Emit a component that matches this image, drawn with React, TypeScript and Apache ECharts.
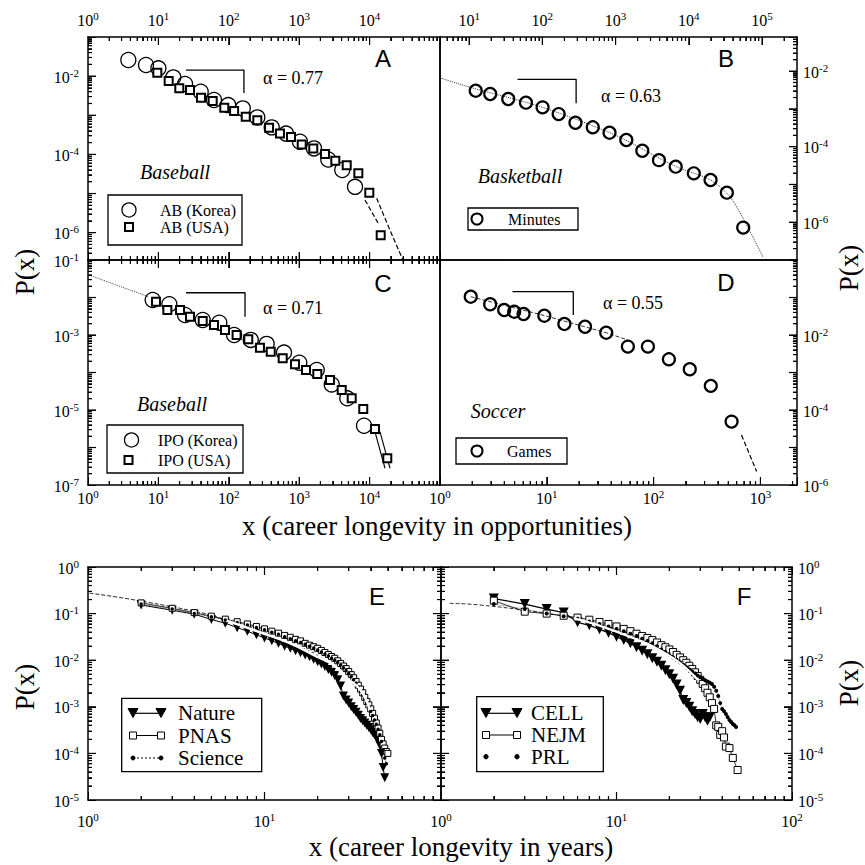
import React, { useEffect, useRef } from "react";
import * as echarts from "echarts";

type P = [number, number];

const SERIF = "'Liberation Serif', 'Times New Roman', serif";
const SANS = "'Liberation Sans', Arial, Helvetica, sans-serif";

// ---------------- Panel A : Baseball, at-bats ----------------
const abKorea: P[] = [
  [3.74, 0.0258], [6.67, 0.0192], [10, 0.0158], [16.3, 0.0093], [23.9, 0.00628],
  [39.9, 0.004], [61.6, 0.00245], [98, 0.00182], [158, 0.0015], [254, 0.00088],
  [407, 0.00049], [650, 0.00034], [1026, 0.00021], [1622, 0.000142], [2590, 7.4e-5],
  [4090, 4.0e-5], [6210, 1.48e-5],
];
const abUSA: P[] = [
  [9.65, 0.0122], [14, 0.0075], [19.8, 0.00488], [28.1, 0.00441], [40.3, 0.0028],
  [59, 0.0023], [86.3, 0.00156], [119, 0.00128], [174, 0.00092], [254, 0.00075],
  [373, 0.00048], [533, 0.00034], [765, 0.00028], [1086, 0.00018], [1585, 0.000142],
  [2323, 0.000102], [3257, 6.9e-5], [4730, 5.3e-5], [6920, 3.3e-5], [9900, 1.04e-5],
  [14380, 8.6e-7],
];
const fitAKorea: P[] = [[8600, 6.8e-6], [13200, 1.75e-6]];
const fitAUSA: P[] = [[12600, 7.6e-6], [19500, 1.16e-6], [29800, 2.0e-7]];
const slopeA: P[] = [[24.7, 0.0143], [164, 0.0143], [164, 0.0037]];

// ---------------- Panel B : Basketball, minutes ----------------
const minutes: P[] = [
  [12.3, 0.00303], [19.4, 0.00248], [34.2, 0.00183], [59.7, 0.00146], [100.7, 0.0011],
  [167, 0.00073], [283, 0.00043], [488, 0.000326], [826, 0.000234], [1400, 0.00015],
  [2317, 7.8e-5], [3910, 4.4e-5], [6620, 2.95e-5], [11690, 1.97e-5], [19800, 1.31e-5],
  [33050, 6.05e-6], [55300, 7.2e-7],
];
const fitB: P[] = [
  [4.1, 0.0065], [11, 0.0036], [100, 0.0011], [1000, 0.0002], [6600, 3.0e-5],
  [20000, 1.3e-5], [36400, 4.7e-6], [58300, 1.03e-6], [103000, 1.2e-7],
];
const slopeB: P[] = [[45.8, 0.00607], [289, 0.00607], [289, 0.00141]];

// ---------------- Panel C : Baseball, innings pitched outs ----------------
const ipoKorea: P[] = [
  [8.3, 0.00858], [14.3, 0.00659], [23.9, 0.00341], [42.6, 0.00251], [73.3, 0.00213],
  [119, 0.001], [205, 0.00074], [345, 0.00058], [608, 0.00034], [1003, 0.000182],
  [1774, 0.000117], [2897, 4.8e-5], [4820, 2.05e-5], [8330, 3.8e-6],
];
const ipoUSA: P[] = [
  [9.25, 0.00773], [13.4, 0.00464], [20.3, 0.00464], [28.1, 0.00308], [42.6, 0.00236],
  [61.6, 0.00185], [88.3, 0.00136], [129, 0.001], [189, 0.00077], [277, 0.00046],
  [394, 0.00036], [583, 0.00024], [872, 0.000166], [1249, 0.000117], [1808, 9.1e-5],
  [2741, 6.3e-5], [4016, 3.4e-5], [5570, 2.05e-5], [8130, 1.06e-5], [11930, 3.1e-6],
  [17830, 5.2e-7],
];
const fitC0: P[] = [[1.1, 0.038], [7.2, 0.0105]];
const fitC1: P[] = [[11930, 2.6e-6], [16550, 2.8e-7]];
const fitC2: P[] = [[14060, 2.6e-6], [19500, 2.8e-7]];
const slopeC: P[] = [[24.7, 0.0134], [170, 0.0134], [170, 0.00308]];

// ---------------- Panel D : Soccer, games ----------------
const games: P[] = [
  [1.94, 0.105], [2.95, 0.066], [3.99, 0.0464], [4.95, 0.0418], [6.06, 0.0363],
  [9.48, 0.0327], [14.6, 0.0197], [22.8, 0.0166], [36, 0.0115], [57.4, 0.0049],
  [88.4, 0.0049], [139, 0.00225], [218, 0.00122], [343, 0.00044], [537, 4.9e-5],
];
const fitD: P[] = [[1.94, 0.105], [9.5, 0.033], [36, 0.0115], [57, 0.0074]];
const fitDtail: P[] = [[665, 2.15e-5], [921, 2.3e-6]];
const slopeD: P[] = [[4.77, 0.143], [17.7, 0.143], [17.7, 0.0341]];

// ---------------- Panel E : journals (years) ----------------
const nature: P[] = [
  [2, 0.153], [3, 0.118], [4, 0.097], [5, 0.075], [6, 0.062], [7, 0.05], [8, 0.042],
  [9, 0.035], [10, 0.03], [11, 0.026], [12, 0.023], [13, 0.02], [14, 0.018], [15, 0.016],
  [16, 0.0145], [17, 0.013], [18, 0.0118], [19, 0.0105], [20, 0.0093], [21, 0.0083],
  [22, 0.0073], [23, 0.0063], [24, 0.0055], [25, 0.0047], [26, 0.0038], [27, 0.0028],
  [28, 0.0017], [29, 0.0014], [30, 0.0012], [31, 0.001], [32, 0.00088], [33, 0.00076],
  [34, 0.00066], [35, 0.00056], [36, 0.0005], [37, 0.00045], [38, 0.0004], [39, 0.00036],
  [40, 0.00032], [41, 0.00028], [42, 0.00025], [43, 0.00022], [44, 0.00019], [45, 0.00015],
  [46, 0.0001], [47, 0.00005], [48, 0.00003],
];
const pnas: P[] = [
  [2, 0.17], [3, 0.13], [4, 0.105], [5, 0.088], [6, 0.076], [7, 0.067], [8, 0.06],
  [9, 0.053], [10, 0.047], [11, 0.042], [12, 0.038], [13, 0.034], [14, 0.031], [15, 0.028],
  [16, 0.026], [17, 0.023], [18, 0.021], [19, 0.0195], [20, 0.018], [21, 0.0162],
  [22, 0.0146], [23, 0.0132], [24, 0.012], [25, 0.011], [26, 0.0097], [27, 0.0085],
  [28, 0.0075], [29, 0.0066], [30, 0.0057], [31, 0.0049], [32, 0.0042], [33, 0.0035],
  [34, 0.0029], [35, 0.0024], [36, 0.002], [37, 0.0016], [38, 0.0013], [39, 0.0011],
  [40, 0.0009], [41, 0.00072], [42, 0.00057], [43, 0.00045], [44, 0.00035], [45, 0.00027],
  [46, 0.0002], [47, 0.00016], [48, 0.00013], [49, 0.00011], [50, 0.0001],
];
const science: P[] = [
  [2, 0.16], [3, 0.125], [4, 0.1], [5, 0.085], [6, 0.073], [7, 0.064], [8, 0.057],
  [9, 0.05], [10, 0.045], [11, 0.04], [12, 0.036], [13, 0.032], [14, 0.029], [15, 0.026],
  [16, 0.024], [17, 0.022], [18, 0.02], [19, 0.0182], [20, 0.0166], [21, 0.015],
  [22, 0.0136], [23, 0.0123], [24, 0.011], [25, 0.01], [26, 0.009], [27, 0.0079],
  [28, 0.0069], [29, 0.006], [30, 0.0052], [31, 0.0045], [32, 0.0038], [33, 0.0032],
  [34, 0.0027], [35, 0.0022], [36, 0.0018], [37, 0.0015], [38, 0.0012], [39, 0.001],
  [40, 0.0008], [41, 0.00065], [42, 0.00052], [43, 0.00042], [44, 0.00033], [45, 0.00025],
  [46, 0.00018], [47, 0.00012], [48, 0.00008], [49, 0.00006],
];
const fitE: P[] = [[1.02, 0.275], [1.49, 0.224], [2, 0.185], [3, 0.14], [4, 0.112], [5, 0.092], [6.1, 0.0705]];
const whiteE: P[] = [
  [6.1, 0.0705], [9.8, 0.0378], [14, 0.023], [19.8, 0.0119], [24.6, 0.0079],
  [29.3, 0.0041], [35, 0.0023], [39.5, 0.00085],
];

// ---------------- Panel F : journals (years) ----------------
const cell: P[] = [
  [2, 0.21], [3, 0.16], [4, 0.125], [5, 0.105], [6, 0.065], [7, 0.056], [8, 0.046],
  [9, 0.039], [10, 0.032], [11, 0.027], [12, 0.023], [13, 0.019], [14, 0.016], [15, 0.0135],
  [16, 0.011], [17, 0.0093], [18, 0.0076], [19, 0.0061], [20, 0.005], [21, 0.004],
  [22, 0.003], [23, 0.0022], [24, 0.0014], [25, 0.0012], [26, 0.001], [27, 0.0008],
  [28, 0.0007], [29, 0.0006], [30, 0.00055], [31, 0.0007], [32, 0.0006], [33, 0.0005],
  [34, 0.0006],
];
const nejm: P[] = [
  [2, 0.19], [3, 0.11], [4, 0.1], [5, 0.09], [6, 0.082], [7, 0.074], [8, 0.066],
  [9, 0.06], [10, 0.053], [11, 0.047], [12, 0.042], [13, 0.037], [14, 0.033], [15, 0.03],
  [16, 0.027], [17, 0.024], [18, 0.021], [19, 0.019], [20, 0.017], [21, 0.015],
  [22, 0.013], [23, 0.0115], [24, 0.01], [25, 0.0088], [26, 0.0076], [27, 0.0065],
  [28, 0.0055], [29, 0.0046], [30, 0.0038], [31, 0.0031], [32, 0.0025], [33, 0.002],
  [34, 0.0016], [35, 0.0012], [36, 0.0009], [37, 0.0004], [38, 0.00037], [39, 0.00025],
  [40, 0.0003], [41, 0.00022], [42, 0.00014], [44, 0.00013], [46, 0.00008], [49, 0.000044],
];
const prl: P[] = [
  [2, 0.16], [3, 0.125], [4, 0.1], [5, 0.088], [6, 0.078], [7, 0.068], [8, 0.06],
  [9, 0.053], [10, 0.047], [11, 0.042], [12, 0.037], [13, 0.033], [14, 0.029], [15, 0.026],
  [16, 0.023], [17, 0.02], [18, 0.017], [19, 0.015], [20, 0.013], [21, 0.0115],
  [22, 0.0102], [23, 0.009], [24, 0.008], [25, 0.0071], [26, 0.0063], [27, 0.0057],
  [28, 0.0052], [29, 0.0047], [30, 0.0043], [31, 0.004], [32, 0.0037], [33, 0.0035],
  [34, 0.0033], [35, 0.0031], [36, 0.0027], [37, 0.0022], [38, 0.0017], [39, 0.0012],
  [40, 0.0009], [41, 0.0008], [42, 0.0007], [43, 0.0006], [44, 0.00052], [45, 0.00047],
  [46, 0.00043], [47, 0.0004], [48, 0.00037],
];
const fitF: P[] = [[1.12, 0.166], [1.67, 0.153], [3.9, 0.103], [5.7, 0.08]];
const whiteF: P[] = [[5.7, 0.08], [10, 0.041], [20, 0.0125], [29, 0.0038]];

// ---------------- axis ranges and tick-label exponents ----------------
const xRangeA = [1, 1e5];
const yRangeA = [2e-7, 0.1];
const xRangeB = [4, 3e5];
const yRangeB = [1e-7, 0.08];
const xRangeC = [1, 1e5];
const yRangeC = [1e-7, 0.1];
const xRangeD = [1, 2200];
const yRangeD = [1e-6, 1];
const xRangeE = [1, 100];
const yRangeE = [1e-5, 1];
const xRangeF = [1, 100];
const yRangeF = [1e-5, 1];

// sides with tick marks: 0 bottom, 1 top, 2 left, 3 right
const PANELS = [
  { g: { left: 88, top: 37, width: 352, height: 223 }, x: xRangeA, y: yRangeA, sides: [0, 1, 2],
    lab: { bottom: [] as number[], top: [0, 1, 2, 3, 4], left: [-2, -4, -6], right: [] as number[] } },
  { g: { left: 440, top: 37, width: 357, height: 223 }, x: xRangeB, y: yRangeB, sides: [1, 3],
    lab: { bottom: [], top: [1, 2, 3, 4, 5], left: [], right: [-2, -4, -6] } },
  { g: { left: 88, top: 260, width: 352, height: 225 }, x: xRangeC, y: yRangeC, sides: [0, 1, 2],
    lab: { bottom: [0, 1, 2, 3, 4], top: [], left: [-1, -3, -5, -7], right: [] } },
  { g: { left: 440, top: 260, width: 357, height: 225 }, x: xRangeD, y: yRangeD, sides: [0, 3],
    lab: { bottom: [0, 1, 2, 3], top: [], left: [], right: [-2, -4, -6] } },
  { g: { left: 88, top: 567, width: 353, height: 233 }, x: xRangeE, y: yRangeE, sides: [0, 1, 2, 3],
    lab: { bottom: [0, 1], top: [], left: [0, -1, -2, -3, -4, -5], right: [] } },
  { g: { left: 441, top: 567, width: 351, height: 233 }, x: xRangeF, y: yRangeF, sides: [0, 1, 2, 3],
    lab: { bottom: [0, 1, 2], top: [], left: [], right: [0, -1, -2, -3, -4, -5] } },
];

const RICH = {
  b: { fontFamily: SERIF, fontSize: 16, color: "#000", lineHeight: 18, verticalAlign: "bottom" },
  s: { fontFamily: SERIF, fontSize: 11, color: "#000", lineHeight: 18, verticalAlign: "top" },
};

function mkAxis(gridIndex: number, position: string, range: number[], exps: number[], margin: number, ticks: boolean) {
  return {
    type: "log",
    gridIndex,
    position,
    min: range[0],
    max: range[1],
    axisLine: { show: true, onZero: false, lineStyle: { color: "#000", width: 1.5 } },
    axisTick: { show: ticks, inside: true, length: 8 },
    minorTick: { show: ticks, splitNumber: 9, length: 4 },
    splitLine: { show: false },
    axisLabel: {
      show: exps.length > 0,
      margin,
      color: "#000",
      fontFamily: SERIF,
      fontSize: 16,
      formatter: (v: number) => {
        const l = Math.log10(v);
        const e = Math.round(l);
        if (Math.abs(l - e) > 1e-6 || exps.indexOf(e) < 0) return "";
        return `{b|10}{s|${e}}`;
      },
      rich: RICH,
    },
  };
}

function logTicks(lo: number, hi: number): [number, number][] {
  const res: [number, number][] = [];
  const n0 = Math.floor(Math.log10(lo));
  const n1 = Math.ceil(Math.log10(hi));
  for (let n = n0; n <= n1; n++) {
    for (let k = 1; k <= 9; k++) {
      const v = k * Math.pow(10, n);
      if (v > lo * 1.0001 && v < hi / 1.0001) res.push([v, k === 1 ? 1 : 0]);
    }
  }
  return res;
}

function sc(name: string, gi: number, data: P[], symbol: string, size: number, fill: string, bw: number, z = 4) {
  return {
    type: "scatter", name, xAxisIndex: gi * 2, yAxisIndex: gi * 2, data, symbol, symbolSize: size,
    itemStyle: { color: fill, borderColor: "#000", borderWidth: bw, opacity: 1 }, z,
  };
}
function ln(name: string, gi: number, data: P[], lineStyle: any, extra: any = {}) {
  return {
    type: "line", name, xAxisIndex: gi * 2, yAxisIndex: gi * 2, data, symbol: "none",
    lineStyle: { color: "#000", ...lineStyle }, z: 3, ...extra,
  };
}

function txt(x: number, y: number, text: string, font: string, align = "center", rotation = 0) {
  return {
    type: "text", x, y, rotation, z: 20,
    style: { text, font, fill: "#000", textAlign: align, textVerticalAlign: "middle", align, verticalAlign: "middle" },
  };
}
function box(x: number, y: number, w: number, h: number) {
  return { type: "rect", z: 15, shape: { x, y, width: w, height: h }, style: { fill: "#fff", stroke: "#000", lineWidth: 1.3 } };
}
function circ(cx: number, cy: number, r: number, lw: number, fill = "none") {
  return { type: "circle", z: 16, shape: { cx, cy, r }, style: { fill, stroke: "#000", lineWidth: lw } };
}
function sq(cx: number, cy: number, s: number, lw: number) {
  return { type: "rect", z: 16, shape: { x: cx - s / 2, y: cy - s / 2, width: s, height: s }, style: { fill: "#fff", stroke: "#000", lineWidth: lw } };
}
function tri(cx: number, cy: number) {
  return { type: "polygon", z: 16, shape: { points: [[cx - 5, cy - 4], [cx + 5, cy - 4], [cx, cy + 5]] }, style: { fill: "#000", stroke: "#000", lineWidth: 1 } };
}
function seg(x1: number, y1: number, x2: number, y2: number, lw: number, dash?: number[], z = 16) {
  const style: any = { stroke: "#000", lineWidth: lw };
  if (dash) style.lineDash = dash;
  return { type: "line", z, shape: { x1, y1, x2, y2 }, style };
}

// axis tick marks (inward), positioned with the chart's own log axes
function tickMarks(chart: any, seriesIdx: number[]): any[] {
  const out: any[] = [];
  PANELS.forEach((p, gi) => {
    const L = p.g.left;
    const R = p.g.left + p.g.width;
    const T = p.g.top;
    const B = p.g.top + p.g.height;
    const midX = Math.sqrt(p.x[0] * p.x[1]);
    const midY = Math.sqrt(p.y[0] * p.y[1]);
    p.sides.forEach((s) => {
      if (s === 0 || s === 1) {
        logTicks(p.x[0], p.x[1]).forEach(([v, m]) => {
          const q: any = chart.convertToPixel({ seriesIndex: seriesIdx[gi] }, [v, midY]);
          if (!q || isNaN(q[0])) return;
          const len = m ? 8 : 4;
          if (s === 0) out.push(seg(q[0], B, q[0], B - len, 1.2, undefined, 50));
          else out.push(seg(q[0], T, q[0], T + len, 1.2, undefined, 50));
        });
      } else {
        logTicks(p.y[0], p.y[1]).forEach(([v, m]) => {
          const q: any = chart.convertToPixel({ seriesIndex: seriesIdx[gi] }, [midX, v]);
          if (!q || isNaN(q[1])) return;
          const len = m ? 8 : 4;
          if (s === 2) out.push(seg(L, q[1], L + len, q[1], 1.2, undefined, 50));
          else out.push(seg(R, q[1], R - len, q[1], 1.2, undefined, 50));
        });
      }
    });
  });
  return out;
}

function baseGraphic(): any[] {
  const LET = `24px ${SANS}`;
  const ALPHA = `18px ${SERIF}`;
  const SPORT = `italic 20px ${SERIF}`;
  const LEG = `16px ${SERIF}`;
  const LEG2 = `21px ${SERIF}`;
  const TITLE = `27px ${SERIF}`;
  return [
    txt(383, 58, "A", LET), txt(726, 58, "B", LET), txt(383, 283, "C", LET),
    txt(726, 282, "D", LET), txt(377, 596, "E", LET), txt(744, 596, "F", LET),
    txt(293, 78, "\u03b1 = 0.77", ALPHA), txt(631, 96, "\u03b1 = 0.63", ALPHA),
    txt(293, 308, "\u03b1 = 0.71", ALPHA), txt(633, 303, "\u03b1 = 0.55", ALPHA),
    txt(175, 172, "Baseball", SPORT), txt(520, 176, "Basketball", SPORT),
    txt(172, 404, "Baseball", SPORT), txt(498, 411, "Soccer", SPORT),
    txt(25, 272, "P(x)", TITLE, "center", Math.PI / 2),
    txt(25, 687, "P(x)", TITLE, "center", Math.PI / 2),
    txt(849, 268, "P(x)", TITLE, "center", Math.PI / 2),
    txt(849, 683, "P(x)", TITLE, "center", Math.PI / 2),
    txt(437, 526, "x (career longevity in opportunities)", TITLE),
    txt(461, 847, "x (career longevity in years)", TITLE),
    box(108, 195, 134, 50), circ(129, 210, 7, 1.3), txt(160, 210, "AB (Korea)", LEG, "left"),
    sq(129, 227, 8, 2), txt(160, 227, "AB (USA)", LEG, "left"),
    box(468, 208, 110, 22), circ(477, 219, 5.5, 2), txt(508, 219, "Minutes", LEG, "left"),
    box(107, 425, 136, 48), circ(131.5, 440, 7, 1.3), txt(158, 440, "IPO (Korea)", LEG, "left"),
    sq(128.5, 460, 8, 2), txt(158, 460, "IPO (USA)", LEG, "left"),
    box(456, 438, 111, 26), circ(477, 451, 5.5, 2), txt(507, 451, "Games", LEG, "left"),
    box(121.7, 698.3, 140, 73.4),
    seg(133, 713.3, 161, 713.3, 1.2), tri(133, 712.5), tri(161, 712.5), txt(178, 713.3, "Nature", LEG2, "left"),
    seg(133, 735.5, 161, 735.5, 1), sq(133, 735.5, 7, 1), sq(161, 735.5, 7, 1), txt(178, 735.5, "PNAS", LEG2, "left"),
    seg(133, 758, 161, 758, 1, [2, 2]), circ(133, 758, 2, 1, "#000"), circ(161, 758, 2, 1, "#000"), txt(178, 758, "Science", LEG2, "left"),
    box(476.7, 696.7, 126.6, 75),
    seg(486, 713.3, 517, 713.3, 1.2), tri(486, 712.5), tri(517, 712.5), txt(531, 713.3, "CELL", LEG2, "left"),
    seg(486, 735, 517, 735, 1), sq(486, 735, 7, 1), sq(517, 735, 7, 1), txt(531, 735, "NEJM", LEG2, "left"),
    circ(486, 756.7, 2.2, 1, "#000"), circ(517, 756.7, 2.2, 1, "#000"), txt(531, 756.7, "PRL", LEG2, "left"),
  ];
}

function buildOption(seriesIdx: number[]) {
  const xAxis: any[] = [];
  const yAxis: any[] = [];
  PANELS.forEach((p, i) => {
    const has = (s: number) => p.sides.indexOf(s) >= 0;
    xAxis.push(mkAxis(i, "bottom", p.x, p.lab.bottom, i >= 4 ? 11 : 3, has(0)));
    xAxis.push(mkAxis(i, "top", p.x, p.lab.top, 9, has(1)));
    yAxis.push(mkAxis(i, "left", p.y, p.lab.left, 9, has(2)));
    yAxis.push(mkAxis(i, "right", p.y, p.lab.right, 6, has(3)));
  });
  const grid = PANELS.map((p) => ({ ...p.g }));

  const series: any[] = [];
  const mark = (gi: number) => { seriesIdx[gi] = series.length; };
  mark(0);
  series.push(
    sc("AB (Korea)", 0, abKorea, "circle", 15, "rgba(0,0,0,0)", 1.3),
    sc("AB (USA)", 0, abUSA, "rect", 8, "#fff", 2, 5),
    ln("fitAKorea", 0, fitAKorea, { width: 1.2, type: "dashed" }),
    ln("fitAUSA", 0, fitAUSA, { width: 1.2, type: "dashed" }, { smooth: true }),
    ln("slopeA", 0, slopeA, { width: 1.3 }),
  );
  mark(1);
  series.push(
    sc("Minutes", 1, minutes, "circle", 12, "rgba(0,0,0,0)", 2.2),
    ln("fitB", 1, fitB, { width: 1, type: "dotted", color: "#333" }, { smooth: 0.3 }),
    ln("slopeB", 1, slopeB, { width: 1.3 }),
  );
  mark(2);
  series.push(
    sc("IPO (Korea)", 2, ipoKorea, "circle", 15, "rgba(0,0,0,0)", 1.3),
    sc("IPO (USA)", 2, ipoUSA, "rect", 8, "#fff", 2, 5),
    ln("fitC0", 2, fitC0, { width: 1, type: "dotted", color: "#444" }),
    ln("fitC1", 2, fitC1, { width: 1.1 }),
    ln("fitC2", 2, fitC2, { width: 1.1 }),
    ln("slopeC", 2, slopeC, { width: 1.3 }),
  );
  mark(3);
  series.push(
    sc("Games", 3, games, "circle", 12, "rgba(0,0,0,0)", 2.2),
    ln("fitD", 3, fitD, { width: 1, type: "dashed", color: "#333" }),
    ln("fitDtail", 3, fitDtail, { width: 1.2, type: "dashed" }),
    ln("slopeD", 3, slopeD, { width: 1.3 }),
  );
  mark(4);
  series.push(
    ln("Nature", 4, nature, { width: 1 }, { symbol: "triangle", symbolRotate: 180, symbolSize: 9, showSymbol: true, itemStyle: { color: "#000" } }),
    ln("fitE", 4, fitE, { width: 1, type: "dashed", color: "#222" }, { smooth: true }),
    ln("PNAS", 4, pnas, { width: 0.8 }, { symbol: "rect", symbolSize: 6, showSymbol: true, itemStyle: { color: "#fff", borderColor: "#000", borderWidth: 1 } }),
    ln("Science", 4, science, { width: 0.8, type: "dotted" }, { symbol: "circle", symbolSize: 3.5, showSymbol: true, itemStyle: { color: "#000" } }),
    ln("whiteE", 4, whiteE, { width: 2.5, color: "#fff" }, { smooth: true, z: 8 }),
  );
  mark(5);
  series.push(
    ln("CELL", 5, cell, { width: 1.2 }, { symbol: "triangle", symbolRotate: 180, symbolSize: 10, showSymbol: true, itemStyle: { color: "#000" } }),
    ln("fitF", 5, fitF, { width: 1, type: "dashed", color: "#333" }, { smooth: true }),
    ln("NEJM", 5, nejm, { width: 0.8 }, { symbol: "rect", symbolSize: 7, showSymbol: true, itemStyle: { color: "#fff", borderColor: "#000", borderWidth: 1 } }),
    ln("PRL", 5, prl, { width: 0.6, type: "dotted" }, { symbol: "circle", symbolSize: 4, showSymbol: true, itemStyle: { color: "#000" } }),
    ln("whiteF", 5, whiteF, { width: 2.2, color: "#fff" }, { smooth: true, z: 8 }),
  );

  return { animation: false, grid, xAxis, yAxis, series };
}

export default function App() {
  const ref = useRef<HTMLDivElement>(null);
  useEffect(() => {
    if (!ref.current) return;
    const chart = echarts.init(ref.current, null, { renderer: "svg" });
    const seriesIdx = [0, 0, 0, 0, 0, 0];
    chart.setOption(buildOption(seriesIdx) as any);
    let ticks: any[] = [];
    try {
      ticks = tickMarks(chart, seriesIdx);
    } catch (e) {
      ticks = [];
    }
    chart.setOption({ graphic: [...baseGraphic(), ...ticks] } as any);
    return () => {
      chart.dispose();
    };
  }, []);
  return (
    <div
      ref={ref}
      style={{ position: "fixed", left: 0, top: 0, width: 865, height: 865, background: "#fff" }}
    />
  );
}
